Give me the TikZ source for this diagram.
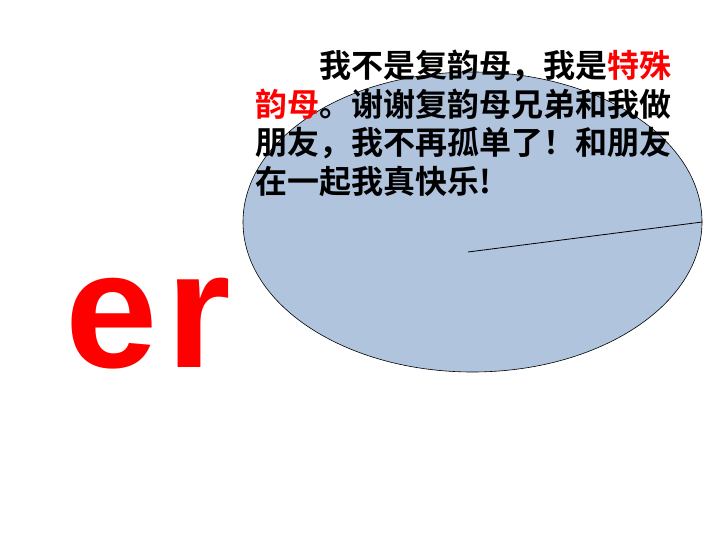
\documentclass[tikz,border=0pt]{standalone}
\usepackage{fontspec}
\usetikzlibrary{shapes.geometric}
\newfontfamily\cjkbold{Noto Sans CJK SC Bold}
\newfontfamily\latinbold{Liberation Sans Bold}
\definecolor{ellfill}{RGB}{176,196,222}
\definecolor{redtxt}{RGB}{255,0,0}
\begin{document}
\begin{tikzpicture}[x=1pt,y=-1pt,
  txtline/.style={anchor=base west,inner sep=0pt,font=\cjkbold\fontsize{32}{38}\selectfont},
  bigletters/.style={anchor=base west,inner sep=0pt,text=redtxt,font=\latinbold\fontsize{166}{166}\selectfont}]
\useasboundingbox (0,0) rectangle (720,540);
\fill[white] (0,0) rectangle (720,540);
\node[draw=black,line width=0.6pt,fill=ellfill,ellipse,inner sep=0pt,minimum width=459pt,minimum height=300pt] (ell) at (472.5,222) {};
\coordinate (lstart) at (468,252);
\draw[line width=0.8pt] (lstart) -- (ell.east);
\node[bigletters] (er) at (65,367) {e\kern9pt r};
\node[txtline] (l1) at (255,78) {\hspace*{64pt}我不是复韵母，我是\textcolor{redtxt}{特殊}};
\node[txtline] (l2) at (255,116.5) {\textcolor{redtxt}{韵母}。谢谢复韵母兄弟和我做};
\node[txtline] (l3) at (255,155) {朋友，我不再孤单了！和朋友};
\node[txtline] (l4) at (255,193.5) {在一起我真快乐!};
\end{tikzpicture}
\end{document}
